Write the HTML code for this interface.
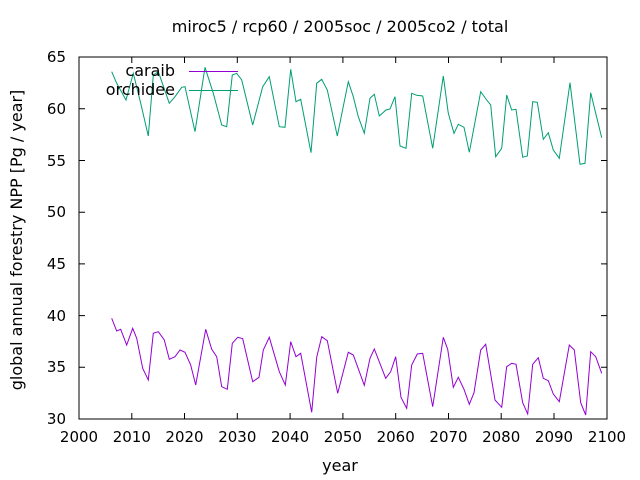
<!DOCTYPE html>
<html><head><meta charset="utf-8"><style>body{margin:0;background:#fff}svg{display:block}text{font-family:"DejaVu Sans","Liberation Sans",sans-serif;font-size:15px;fill:#000}.b{font-size:16px}</style></head><body>
<svg width="640" height="480" viewBox="0 0 640 480">
<rect x="79" y="57" width="528" height="362" fill="none" stroke="#000" stroke-width="1"/>
<g stroke="#000" stroke-width="1">
<path d="M79 419h6M79 367.3h6M79 315.6h6M79 263.9h6M79 212.2h6M79 160.5h6M79 108.8h6M79 57h6M607 419h-6M607 367.3h-6M607 315.6h-6M607 263.9h-6M607 212.2h-6M607 160.5h-6M607 108.8h-6"/>
<path d="M131.8 419v-6M184.5 419v-6M237.3 419v-6M290.1 419v-6M342.9 419v-6M395.7 419v-6M448.5 419v-6M501.2 419v-6M554 419v-6M131.8 57v6M184.5 57v6M237.3 57v6M290.1 57v6M342.9 57v6M395.7 57v6M448.5 57v6M501.2 57v6M554 57v6"/>
</g>
<g text-anchor="end">
<text x="66" y="424">30</text><text x="66" y="372">35</text><text x="66" y="321">40</text><text x="66" y="269">45</text><text x="66" y="217">50</text><text x="66" y="166">55</text><text x="66" y="114">60</text><text x="66" y="62">65</text>
</g>
<g text-anchor="middle">
<text x="79" y="442">2000</text><text x="131.8" y="442">2010</text><text x="184.5" y="442">2020</text><text x="237.3" y="442">2030</text><text x="290.1" y="442">2040</text><text x="342.9" y="442">2050</text><text x="395.7" y="442">2060</text><text x="448.5" y="442">2070</text><text x="501.2" y="442">2080</text><text x="554" y="442">2090</text><text x="607" y="442">2100</text>
<text class="b" x="340" y="471">year</text>
<text class="b" x="340" y="32">miroc5 / rcp60 / 2005soc / 2005co2 / total</text>
<text class="b" transform="translate(22,240) rotate(-90)">global annual forestry NPP [Pg / year]</text>
</g>
<polyline fill="none" stroke="#9400d3" stroke-width="1" points="111.7,318.3 116.7,331 120.7,329.3 126.7,345 132.7,328.3 136.7,338.3 142.7,368.3 148.3,380 153.3,333.3 158.3,331.7 164.3,340 169.3,359.3 175,356.7 180,350 185,352.3 190.7,365 195.7,385 205.7,329.3 211.7,349.3 216.7,356.7 221.7,386.7 227.3,389.3 232.3,343.3 237.7,337.3 242.7,338.7 252.7,381.7 259,377.3 263.3,350 269.3,337.3 279.3,371.7 285.3,385 290.7,341.7 296,356.7 300.7,353.3 311.7,412.3 316.7,357.3 321.7,336.7 327.3,340.7 337.7,393.3 348.3,352.3 353.3,355 364.3,385.3 370,358.3 374.3,349 385.7,378.3 390.7,371.7 395.7,356.7 401,397.3 406.7,408.3 411.7,365 417.3,354 422.7,353.3 432.7,406.7 443.3,337.3 447.7,349.3 453.3,387.3 458.3,377.3 464,389.3 469.3,404.3 474,392.7 480.7,350 485.7,344.3 495,400 501.7,407.3 506.7,366.7 511.7,363.3 516,364.3 522.7,402.7 527.7,414 532.7,364.3 538.3,357.7 543.3,378.3 548.3,380.7 553.3,394 559.3,401.7 569.3,345 574.3,350 580.7,402.7 585.7,415 590.7,351.7 595.7,356.7 601.7,373.3"/>
<polyline fill="none" stroke="#009e73" stroke-width="1" points="111.7,71.7 116.7,83.3 126,100 133.3,73.3 140.7,103.3 148.3,136 153.3,75 158.3,71.7 169.3,103.3 175,96.7 181.7,87.3 185,86.7 195,131.7 205,67.3 213.3,93.3 221.7,125 226.7,126.7 232.3,75 236.7,73.3 241.7,80 252.7,125 262.7,86.7 269.3,76.7 279.3,126.7 285,127.3 290.7,69.3 296,101.7 300.7,99.3 311,152.7 316.7,83.3 321.7,79.3 327.3,90 337.3,136 348.3,81.7 353.3,96.7 358.3,116.7 364.3,133.3 370,98.3 374.3,94.3 379.3,116 386,110 390,109 395,96.7 400,146 406,148.3 411.7,93.3 416.7,95.3 422.7,96 432.7,148.3 443.3,76 448.3,113.3 454,133.3 458.3,124.3 464,127.3 469.3,152.3 480.7,91.7 486.7,100 490.7,105 495.7,156.7 501.7,148.3 506.7,95 511.7,110 516,109.3 522.7,157.3 527.3,156 532.7,101.7 537.3,102.3 543.3,139.3 548.3,132.7 553.3,150 559.3,158.3 570,82.7 580,164.3 585,163.3 590.7,92.7 601.7,137.7"/>
<text class="b" x="175" y="76" text-anchor="end">caraib</text>
<text class="b" x="175" y="95" text-anchor="end">orchidee</text>
<line x1="189" y1="71.5" x2="238" y2="71.5" stroke="#9400d3"/>
<line x1="189" y1="90.5" x2="238" y2="90.5" stroke="#009e73"/>
</svg>
</body></html>
